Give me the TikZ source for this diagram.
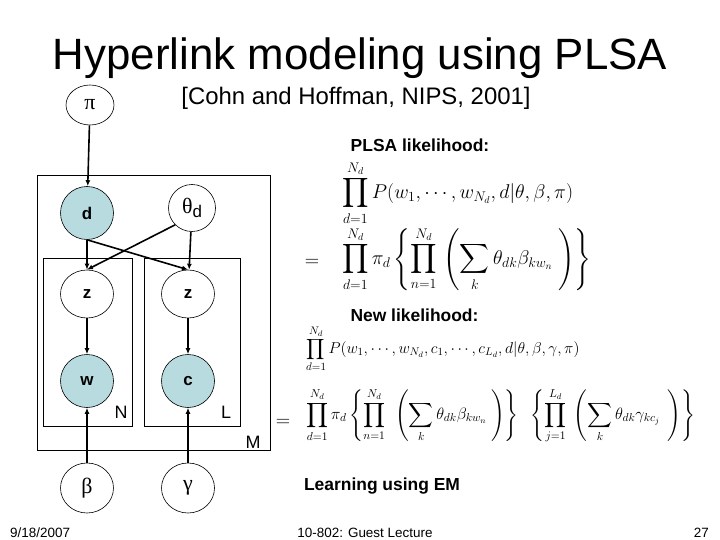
\RequirePackage{fix-cm}
\documentclass[tikz,border=0pt]{standalone}
\usepackage{exscale}
\usepackage[no-math]{fontspec}
\setmainfont{Liberation Sans}
\newfontfamily\greekfont{Liberation Serif}
\usetikzlibrary{arrows.meta,shapes.geometric}
\definecolor{obs}{RGB}{184,219,224}
\tikzset{
  rv/.style={draw, ellipse, line width=0.6pt, inner sep=0pt, minimum width=53bp, minimum height=53bp, font=\fontsize{17}{19}\selectfont\bfseries},
  gk/.style={font=\fontsize{22}{24}\greekfont},
  ob/.style={fill=obs},
  plate/.style={draw, line width=0.6pt},
  edge/.style={line width=1.6pt, -{Latex[length=6bp,width=5bp]}},
  lbl/.style={font=\fontsize{18}{20}\selectfont, inner sep=0pt},
  bl/.style={font=\fontsize{17.5}{20}\selectfont\bfseries, inner sep=0pt, anchor=base},
  foot/.style={font=\fontsize{13.5}{15}\selectfont, inner sep=0pt, anchor=base},
  eqa/.style={inner sep=0pt, font=\fontsize{20}{24}\selectfont},
  eqb/.style={inner sep=0pt, font=\fontsize{16.5}{20}\selectfont}
}
\begin{document}
\begin{tikzpicture}[x=1bp,y=-1bp]
\useasboundingbox (0,0) rectangle (720,540);
% title
\node[inner sep=0pt, anchor=base, font=\fontsize{44}{48}\selectfont] (title) at (360,70) {Hyperlink modeling using PLSA};
\node[inner sep=0pt, anchor=base, font=\fontsize{24}{26}\selectfont] (cite) at (356,105) {[Cohn and Hoffman, NIPS, 2001]};
% plates
\draw[plate] (37,175) rectangle (270,450);
\draw[plate] (43,258) rectangle (132,426);
\draw[plate] (144,258) rectangle (240,426);
\node[lbl] (N) at (121,412) {N};
\node[lbl] (L) at (226,412) {L};
\node[lbl] (M) at (253,442) {M};
% nodes
\node[rv, minimum width=48bp, minimum height=40bp, gk] (pi) at (90,105) {π};
\node[rv, ob] (d) at (87,213) {d};
\node[rv, minimum width=47bp, minimum height=47bp, gk] (thd) at (192,208) {θ\raisebox{-0.4ex}{\fontsize{17}{19}\selectfont\normalfont d}};
\node[rv, minimum height=48bp] (z1) at (87,294) {z};
\node[rv, minimum height=48bp] (z2) at (188,294) {z};
\node[rv, ob] (w) at (87,381) {w};
\node[rv, ob] (c) at (188,381) {c};
\node[rv, minimum height=50bp, gk] (beta) at (87,488) {β};
\node[rv, minimum height=50bp, gk] (gamma) at (188,488) {γ};
% edges
\draw[edge] (pi) -- (d);
\draw[edge] (d) -- (z1);
\draw[edge] (thd) -- (z2);
\draw[edge] (thd.south west) -- (z1.north);
\draw[edge] (d.south) -- (z2.north);
\draw[edge] (z1) -- (w);
\draw[edge] (z2) -- (c);
\draw[edge] (beta) -- (w);
\draw[edge] (gamma) -- (c);
% right side text
\node[bl] (plsa) at (420,152) {PLSA likelihood:};
\node[bl] (newl) at (414.5,321) {New likelihood:};
\node[bl] (em) at (382,490) {Learning using EM};
% equations
\node[eqa, anchor=west] (e1a) at (342,193)
  {$\displaystyle\prod_{d=1}^{N_d} P(w_1,\cdots,w_{N_d},d|\theta,\beta,\pi)$};
\node[eqa] (e1eq) at (312,263) {$=$};
\node[eqa, anchor=west] (e1b) at (342,259)
  {$\displaystyle\prod_{d=1}^{N_d} \pi_d \left\{\prod_{n=1}^{N_d}\,\left(\sum_k \theta_{dk}\beta_{kw_n}\;\right)\right\}$};
\node[eqb, anchor=west, font=\fontsize{15.8}{19}\selectfont] (e2a) at (306,349)
  {$\displaystyle\prod_{d=1}^{N_d} P(w_1,\cdots,w_{N_d},c_1,\cdots,c_{L_d},d|\theta,\beta,\gamma,\pi)$};
\node[eqa] (e2eq) at (283,423) {$=$};
\node[eqb, anchor=west] (e2b) at (306,416)
  {$\displaystyle\prod_{d=1}^{N_d} \pi_d \left\{\prod_{n=1}^{N_d}\;\,\left(\sum_k \theta_{dk}\beta_{kw_n}\;\right)\right\}\;\;\left\{\prod_{j=1}^{L_d}\;\left(\sum_k \theta_{dk}\gamma_{kc_j}\;\,\right)\right\}$};
% footer
\node[foot, anchor=base west] (date) at (10,537) {9/18/2007};
\node[foot] (course) at (365,537) {10-802: Guest Lecture};
\node[foot, anchor=base east] (page) at (709,537) {27};
\end{tikzpicture}
\end{document}
